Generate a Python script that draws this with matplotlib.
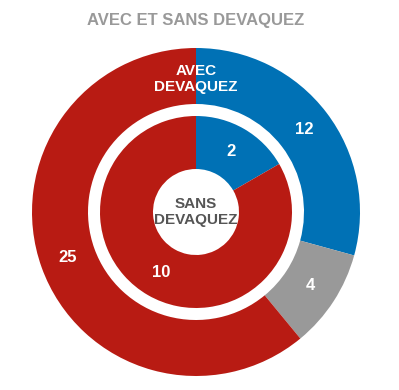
import matplotlib.pyplot as plt

# ── Data ──────────────────────────────────────────────────────────────────────
outer_labels = ["Bleu", "Gris", "Rouge"]
outer_values = [12, 4, 25]
inner_labels = ["Bleu", "Rouge"]
inner_values = [2, 10]

# Colors
C_RED = "#B81B13"
C_BLUE = "#0071B5"
C_GRAY = "#999999"
C_TITLE = "#999999"
C_DARK = "#555555"

plt.rcParams["font.family"] = ["Liberation Sans", "DejaVu Sans"]

W, H = 399, 390
fig = plt.figure(figsize=(W / 100, H / 100), dpi=100)
ax = fig.add_axes([0, 0, 1, 1])

cx, cy = 196, H - 212


def fmt(values):
    total = sum(values)
    return lambda p: f"{round(p * total / 100)}"


# Outer ring: "avec Devaquez"
R_OUT, R_OUT_IN = 164, 108
_, _, t_out = ax.pie(outer_values, colors=[C_BLUE, C_GRAY, C_RED], center=(cx, cy),
                     radius=R_OUT, startangle=90, counterclock=False,
                     autopct=fmt(outer_values), pctdistance=(R_OUT + R_OUT_IN) / 2 / R_OUT,
                     wedgeprops=dict(width=R_OUT - R_OUT_IN, linewidth=0),
                     textprops=dict(color="white", fontsize=12, fontweight="bold"))

# Inner ring: "sans Devaquez"
R_IN, R_HOLE = 96, 43
_, _, t_in = ax.pie(inner_values, colors=[C_BLUE, C_RED], center=(cx, cy),
                    radius=R_IN, startangle=90, counterclock=False,
                    autopct=fmt(inner_values), pctdistance=(R_IN + R_HOLE) / 2 / R_IN,
                    wedgeprops=dict(width=R_IN - R_HOLE, linewidth=0),
                    textprops=dict(color="white", fontsize=12, fontweight="bold"))

ax.text(cx, H - 79, "AVEC\nDEVAQUEZ", ha="center", va="center", color="white",
        fontsize=11, fontweight="bold", linespacing=1.15)
ax.text(cx, cy, "SANS\nDEVAQUEZ", ha="center", va="center", color=C_DARK,
        fontsize=11, fontweight="bold", linespacing=1.15)
ax.text(cx, H - 20, "AVEC ET SANS DEVAQUEZ", ha="center", va="center", color=C_TITLE,
        fontsize=12, fontweight="bold")

ax.set_xlim(0, W)
ax.set_ylim(0, H)
ax.set_aspect("equal")
ax.axis("off")

fig.savefig("out.png", dpi=100, facecolor="white")
